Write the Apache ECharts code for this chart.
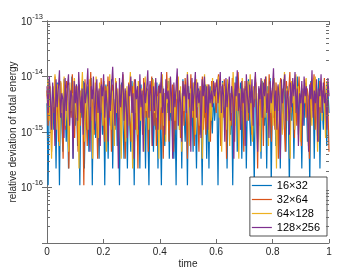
<!DOCTYPE html>
<html><head><meta charset="utf-8">
<script src="https://cdn.jsdelivr.net/npm/echarts@6/dist/echarts.min.js"></script>
<style>html,body{margin:0;padding:0;background:#fff}#c{width:363px;height:273px}</style>
</head><body><div id="c"></div>
<script>
const seriesNames = ['16×32', '32×64', '64×128', '128×256'];
const seriesColors = ['#0072BD', '#D95319', '#EDB120', '#7E2F8E'];
const xTickLabels = ['0', '0.2', '0.4', '0.6', '0.8', '1'];
const yDecades = [1e-17, 1e-16, 1e-15, 1e-14, 1e-13];
const yTickExponents = ['', '-16', '-15', '-14', '-13'];

const err16 = [3.3e-15,1.1e-16,5.6e-15,2.2e-15,8.9e-16,6.7e-15,1.1e-15,4.4e-15,2.2e-16,7.8e-15,3.3e-15,1.1e-16,5.6e-15,1.6e-15,4.4e-16,8.9e-15,2.8e-15,6.7e-16,3.9e-15,2.2e-16,6.1e-15,2.2e-15,1.0e-14,3.3e-16,4.4e-15,1.3e-15,7.2e-15,5.6e-16,2.8e-15,1.1e-16,5.0e-15,1.8e-15,8.3e-15,2.2e-16,3.3e-15,1.1e-15,6.7e-15,4.4e-16,2.4e-15,9.4e-15,1.1e-16,4.4e-15,1.6e-15,7.8e-16,5.6e-15,2.2e-15,3.3e-16,6.7e-15,3.3e-15,8.9e-16,4.9e-15,1.1e-16,7.2e-15,2.8e-15,3.3e-16,5.6e-15,1.3e-15,8.9e-15,2.2e-16,3.9e-15,1.1e-15,6.1e-15,5.6e-16,2.2e-15,1.1e-16,4.4e-15,7.8e-15,1.8e-15,3.3e-16,5.0e-15,2.8e-15,2.2e-16,6.7e-15,1.6e-15,4.4e-16,8.3e-15,3.3e-15,1.1e-16,5.6e-15,2.2e-15,6.7e-16,4.4e-15,2.2e-16,7.2e-15,2.4e-15,8.9e-16,3.9e-15,2.2e-16,6.1e-15,1.3e-15,1.1e-16,5.0e-15,2.8e-15,9.4e-15,4.4e-16,3.3e-15,1.1e-15,7.8e-15,2.2e-16,4.4e-15,1.8e-15,1.1e-16,6.7e-15,3.3e-15,5.6e-16,5.6e-15,2.2e-15,8.3e-15,3.3e-16,3.9e-15,1.6e-15,6.1e-15,3.3e-16,2.8e-15,1.1e-16,7.2e-15,4.4e-15,1.1e-15,5.0e-15,2.2e-16,8.9e-15,2.4e-15,6.7e-16,4.4e-15,1.1e-16,6.7e-15,3.3e-15,1.3e-15,5.6e-15,4.4e-16,7.8e-15,2.2e-15,2.2e-16,3.9e-15,6.1e-15,8.9e-16,2.8e-15,1.1e-16,5.0e-15,1.8e-15,7.2e-15,3.3e-16,4.4e-15,2.2e-16,6.7e-15,2.2e-15,9.4e-16,5.6e-15,1.6e-15,3.3e-15,
4.4e-15,1.1e-16,6.7e-15,2.8e-15,5.6e-16,8.3e-15,3.3e-15,1.3e-15,5.6e-15,2.2e-16,7.2e-15,3.9e-15,8.9e-16,4.4e-15,1.1e-16,6.1e-15,2.4e-15,1.0e-14,4.4e-16,5.0e-15,1.8e-15,7.8e-15,3.3e-16,3.3e-15,1.1e-15,6.7e-15,2.2e-16,4.4e-15,8.9e-15,1.6e-15,5.6e-16,5.6e-15,2.8e-15,1.1e-16,7.2e-15,3.9e-15,6.7e-16,6.1e-15,2.2e-15,3.3e-16,8.3e-15,4.4e-15,1.3e-15,5.0e-15,2.2e-16,6.7e-15,3.3e-15,9.4e-15,1.1e-16,4.4e-15,1.8e-15,7.8e-15,5.6e-16,3.3e-15,2.4e-15,6.1e-15,2.2e-16,5.6e-15,1.1e-15,8.9e-15,3.9e-15,4.4e-16,6.7e-15,2.8e-15,1.1e-16,5.0e-15,1.6e-15,7.2e-15,3.3e-16,4.4e-15,2.2e-15,1.0e-14,8.9e-16,5.6e-15,3.3e-15,2.2e-16,6.1e-15,1.3e-15,7.8e-15,4.4e-15,6.7e-16,3.9e-15,1.1e-16,8.3e-15,2.4e-15,5.6e-15,3.3e-16,6.7e-15,1.8e-15,4.4e-15,9.4e-15,2.2e-16,5.0e-15,2.8e-15,1.1e-15,7.2e-15,3.3e-15,5.6e-16,6.1e-15,2.2e-15];
const err32 = [5.6e-15,1.3e-15,8.9e-15,3.3e-15,4.4e-16,6.7e-15,2.2e-15,1.0e-14,1.6e-15,5.0e-15,6.7e-16,3.9e-15,7.8e-15,2.8e-15,3.3e-16,6.1e-15,1.1e-15,8.3e-15,4.4e-15,2.2e-16,5.6e-15,1.8e-15,1.1e-14,3.3e-15,7.8e-16,6.7e-15,2.4e-15,4.4e-16,7.2e-15,1.3e-15,5.0e-15,3.3e-15,1.1e-16,8.9e-15,2.2e-15,5.6e-16,6.1e-15,3.9e-15,1.2e-14,1.6e-15,4.4e-15,8.9e-16,7.8e-15,2.8e-15,3.3e-16,5.6e-15,1.1e-15,9.4e-15,4.4e-15,2.2e-15,6.7e-16,6.7e-15,3.3e-15,1.0e-14,1.8e-15,5.0e-15,4.4e-16,7.2e-15,2.4e-15,1.1e-15,8.3e-15,3.9e-15,5.6e-16,6.1e-15,1.3e-15,4.4e-15,1.1e-14,2.2e-15,3.3e-16,5.6e-15,2.8e-15,7.8e-15,1.6e-15,6.7e-16,6.7e-15,3.3e-15,8.9e-15,1.1e-15,4.4e-15,2.2e-16,7.2e-15,2.2e-15,5.0e-15,8.9e-16,9.4e-15,3.9e-15,1.8e-15,6.1e-15,4.4e-16,5.6e-15,2.4e-15,1.0e-14,3.3e-15,1.3e-15,7.8e-15,5.6e-16,4.4e-15,6.7e-15,2.8e-15,1.1e-15,8.3e-15,3.3e-16,5.0e-15,1.6e-15,1.2e-14,3.9e-15,6.7e-16,6.1e-15,2.2e-15,7.2e-15,4.4e-16,4.4e-15,1.1e-15,8.9e-15,3.3e-15,5.6e-15,7.8e-16,2.4e-15,6.7e-15,1.3e-15,9.4e-15,4.4e-15,3.3e-16,5.0e-15,2.8e-15,1.1e-14,1.8e-15,6.1e-15,5.6e-16,3.9e-15,7.8e-15,2.2e-15,4.4e-16,6.7e-15,3.3e-15,1.0e-14,1.1e-15,5.6e-15,8.9e-16,4.4e-15,7.2e-15,2.2e-15,6.7e-16,8.3e-15,3.3e-15,5.0e-15,
7.8e-15,2.2e-15,5.6e-15,1.1e-14,3.3e-15,5.6e-16,6.7e-15,1.8e-15,8.9e-15,4.4e-15,3.3e-16,7.2e-15,2.8e-15,5.0e-15,1.3e-15,9.4e-15,3.9e-15,6.7e-16,6.1e-15,2.4e-15,1.2e-14,4.4e-15,1.1e-15,5.6e-15,3.3e-15,4.4e-16,8.3e-15,2.2e-15,6.7e-15,1.6e-15,7.8e-15,3.3e-15,8.9e-16,5.0e-15,2.8e-15,1.0e-14,4.4e-15,2.2e-16,6.1e-15,1.3e-15,7.2e-15,3.9e-15,5.6e-16,8.9e-15,2.4e-15,5.6e-15,1.8e-15,1.1e-14,3.3e-15,6.7e-16,6.7e-15,4.4e-15,1.1e-15,7.8e-15,2.2e-15,3.3e-16,5.0e-15,9.4e-15,2.8e-15,6.1e-15,1.6e-15,4.4e-16,8.3e-15,3.3e-15,5.6e-15,1.2e-14,2.2e-15,7.2e-15,3.9e-15,7.8e-16,6.7e-15,1.3e-15,4.4e-15,1.0e-14,2.4e-15,5.6e-16,5.6e-15,3.3e-15,8.9e-15,1.8e-15,6.1e-15,4.4e-15,3.3e-16,7.8e-15,2.8e-15,5.0e-15,1.1e-14,1.1e-15,6.7e-15,3.9e-15,6.7e-16,8.3e-15,2.2e-15,5.6e-15,4.4e-15,9.4e-15,1.6e-15,7.2e-15,3.3e-15,4.4e-16];
const err64 = [4.4e-15,8.9e-15,1.6e-15,6.7e-15,3.3e-16,5.6e-15,2.8e-15,1.1e-14,1.1e-15,7.2e-15,3.9e-15,5.6e-16,8.3e-15,2.2e-15,4.4e-15,1.0e-14,1.3e-15,6.1e-15,3.3e-15,4.4e-16,7.8e-15,2.4e-15,5.0e-15,8.9e-16,9.4e-15,3.3e-15,1.8e-15,6.7e-15,2.2e-16,5.6e-15,4.4e-15,1.2e-14,2.2e-15,6.7e-16,7.2e-15,3.9e-15,1.1e-15,8.9e-15,2.8e-15,5.6e-15,3.3e-16,6.1e-15,1.6e-15,1.0e-14,4.4e-15,7.8e-16,7.8e-15,2.2e-15,5.0e-15,1.3e-15,8.3e-15,3.3e-15,4.4e-16,6.7e-15,2.4e-15,1.1e-14,1.1e-15,5.6e-15,3.9e-15,5.6e-16,9.4e-15,2.2e-15,6.1e-15,1.8e-15,7.2e-15,3.3e-16,4.4e-15,8.9e-15,2.8e-15,6.7e-16,6.7e-15,1.3e-15,5.0e-15,1.2e-14,3.3e-15,2.2e-16,7.8e-15,2.2e-15,5.6e-15,8.9e-16,8.3e-15,4.4e-15,1.6e-15,6.1e-15,3.9e-15,4.4e-16,1.0e-14,2.4e-15,5.6e-15,1.1e-15,7.2e-15,3.3e-15,5.6e-16,8.9e-15,2.2e-15,6.7e-15,1.8e-15,4.4e-15,3.3e-16,7.8e-15,2.8e-15,1.1e-14,1.3e-15,5.0e-15,6.7e-16,6.1e-15,3.3e-15,9.4e-15,2.2e-15,4.4e-15,7.8e-16,7.2e-15,1.6e-15,5.6e-15,3.9e-15,1.0e-14,1.1e-15,6.7e-15,4.4e-16,8.3e-15,2.4e-15,5.0e-15,3.3e-15,1.2e-14,2.2e-15,5.6e-16,6.1e-15,1.8e-15,7.8e-15,4.4e-15,8.9e-16,8.9e-15,2.8e-15,5.6e-15,1.3e-15,6.7e-15,3.3e-16,4.4e-15,1.1e-14,2.2e-15,7.2e-15,3.9e-15,6.7e-16,5.6e-15,1.6e-15,9.4e-15,3.3e-15,5.0e-15,
6.1e-15,3.3e-15,1.0e-14,1.8e-15,5.6e-15,4.4e-16,7.8e-15,2.8e-15,6.7e-15,1.1e-15,8.9e-15,3.9e-15,5.6e-16,5.0e-15,2.2e-15,1.2e-14,4.4e-15,1.3e-15,7.2e-15,3.3e-15,3.3e-16,6.1e-15,2.4e-15,9.4e-15,4.4e-15,7.8e-16,5.6e-15,1.6e-15,8.3e-15,3.3e-15,1.1e-14,2.2e-15,6.7e-16,6.7e-15,3.9e-15,7.8e-15,1.1e-15,5.0e-15,2.8e-15,4.4e-16,8.9e-15,4.4e-15,6.1e-15,1.8e-15,1.0e-14,3.3e-15,5.6e-16,7.2e-15,2.2e-15,5.6e-15,1.3e-15,9.4e-15,4.4e-15,2.2e-16,6.7e-15,2.4e-15,7.8e-15,3.9e-15,8.9e-16,5.0e-15,1.2e-14,2.8e-15,6.1e-15,1.6e-15,4.4e-15,3.3e-16,8.3e-15,3.3e-15,5.6e-15,1.1e-15,1.1e-14,2.2e-15,6.7e-15,4.4e-15,6.7e-16,7.2e-15,1.8e-15,5.0e-15,3.3e-15,9.4e-15,2.4e-15,5.6e-16,6.1e-15,4.4e-15,1.3e-15,8.9e-15,3.9e-15,1.0e-14,2.2e-15,4.4e-16,5.6e-15,2.8e-15,7.8e-15,1.6e-15,6.7e-15,3.3e-15,7.8e-16,8.3e-15,4.4e-15,5.0e-15];
const err128 = [6.7e-15,2.2e-15,1.0e-14,4.4e-15,1.1e-15,7.8e-15,3.3e-15,5.6e-16,8.9e-15,2.8e-15,6.1e-15,1.3e-14,1.8e-15,5.0e-15,3.9e-15,7.8e-16,9.4e-15,2.4e-15,6.7e-15,1.1e-14,1.3e-15,5.6e-15,4.4e-15,3.3e-16,8.3e-15,3.3e-15,7.2e-15,1.6e-15,1.2e-14,4.4e-15,2.2e-15,6.1e-15,8.9e-16,7.8e-15,3.3e-15,5.6e-15,1.4e-14,2.8e-15,4.4e-16,6.7e-15,3.9e-15,1.0e-14,1.1e-15,5.0e-15,8.9e-15,2.2e-15,6.1e-15,5.6e-16,7.2e-15,4.4e-15,1.1e-14,1.8e-15,5.6e-15,3.3e-15,6.7e-16,8.3e-15,2.4e-15,6.7e-15,1.5e-14,3.9e-15,1.3e-15,7.8e-15,4.4e-15,2.2e-16,9.4e-15,2.8e-15,5.6e-15,1.2e-14,1.6e-15,6.1e-15,3.3e-15,7.8e-16,7.2e-15,4.4e-15,1.0e-14,2.2e-15,5.0e-15,3.3e-16,8.9e-15,3.9e-15,6.7e-15,1.1e-15,1.1e-14,2.8e-15,5.6e-15,4.4e-16,7.8e-15,3.3e-15,6.1e-15,1.3e-14,1.8e-15,8.3e-15,4.4e-15,5.6e-16,6.7e-15,2.4e-15,9.4e-15,3.3e-15,1.1e-15,7.2e-15,5.0e-15,1.2e-14,2.2e-15,6.1e-15,8.9e-16,8.9e-15,3.9e-15,5.6e-15,1.6e-15,1.0e-14,4.4e-15,3.3e-16,7.8e-15,2.8e-15,6.7e-15,1.4e-14,1.3e-15,5.6e-15,3.3e-15,6.7e-16,8.3e-15,4.4e-15,7.2e-15,2.2e-15,1.1e-14,3.9e-15,5.0e-15,4.4e-16,9.4e-15,2.4e-15,6.1e-15,1.2e-14,1.8e-15,7.8e-15,3.3e-15,5.6e-15,7.8e-16,8.9e-15,4.4e-15,1.0e-14,2.2e-15,6.7e-15,1.1e-15,7.2e-15,3.3e-15,5.6e-15,2.8e-15,8.3e-15,4.4e-15,6.1e-15,
8.9e-15,3.3e-15,6.1e-15,1.2e-14,2.2e-15,7.2e-15,4.4e-15,6.7e-16,9.4e-15,2.8e-15,5.6e-15,1.0e-14,1.6e-15,6.7e-15,3.9e-15,3.3e-16,7.8e-15,4.4e-15,1.3e-14,2.4e-15,5.0e-15,1.1e-15,8.3e-15,3.3e-15,6.1e-15,5.6e-16,1.1e-14,4.4e-15,2.2e-15,7.2e-15,3.3e-15,8.9e-15,1.3e-15,5.6e-15,1.2e-14,2.8e-15,4.4e-16,6.7e-15,3.9e-15,9.4e-15,1.8e-15,7.8e-15,4.4e-15,1.0e-14,2.2e-15,5.0e-15,7.8e-16,8.3e-15,3.3e-15,6.1e-15,1.4e-14,2.4e-15,5.6e-15,1.1e-15,7.2e-15,4.4e-15,3.3e-16,8.9e-15,3.3e-15,6.7e-15,1.1e-14,1.6e-15,5.6e-15,3.9e-15,8.9e-16,7.8e-15,2.8e-15,9.4e-15,4.4e-15,1.2e-14,2.2e-15,6.1e-15,5.6e-16,5.0e-15,3.3e-15,8.3e-15,1.3e-15,1.0e-14,4.4e-15,6.7e-15,2.4e-15,4.4e-16,7.2e-15,3.9e-15,1.3e-14,1.8e-15,5.6e-15,3.3e-15,8.9e-15,6.7e-16,6.1e-15,4.4e-15,1.1e-14,2.2e-15,7.8e-15,3.3e-15,5.0e-15,1.1e-15,9.4e-15,4.4e-15];

const allSeries = [err16, err32, err64, err128];
const FONT = "'Liberation Sans', Arial, Helvetica, sans-serif";
const AX = '#6e6e6e';
const TXT = '#262626';

// minor tick positions for the log axis (2..9 x 10^n)
const minorVals = [];
for (let e = -17; e <= -14; e++) for (let m = 2; m <= 9; m++) minorVals.push([0, m * Math.pow(10, e)]);

const chart = echarts.init(document.getElementById('c'), null, {renderer: 'canvas'});
const yAxisBase = {
  type: 'log', logBase: 10, min: yDecades[0], max: yDecades[yDecades.length - 1],
  splitLine: {show: false},
  axisLine: {show: true, lineStyle: {color: AX, width: 1}},
  axisTick: {show: true, inside: true, length: 5, lineStyle: {color: AX}},
  axisLabel: {show: false},
  minorTick: {show: false}
};
chart.setOption({
  animation: false,
  backgroundColor: '#fff',
  grid: {left: 47, right: 34, top: 21, bottom: 30, containLabel: false, outerBoundsMode: 'none'},
  legend: {
    data: seriesNames, orient: 'vertical', right: 36, top: 177,
    icon: 'rect', itemWidth: 20, itemHeight: 1.2, itemGap: 3,
    backgroundColor: '#fff', borderColor: TXT, borderWidth: 0.8, borderRadius: 0,
    padding: [3, 7, 3, 2],
    textStyle: {fontSize: 11, fontFamily: FONT, color: '#000'}
  },
  xAxis: [{
    type: 'value', min: 0, max: 1, interval: 0.2, position: 'bottom',
    name: 'time', nameLocation: 'middle', nameGap: 16, nameMoveOverlap: false,
    nameTextStyle: {fontSize: 10, fontFamily: FONT, color: TXT},
    splitLine: {show: false},
    axisLine: {show: true, onZero: false, lineStyle: {color: AX, width: 1}},
    axisTick: {show: true, inside: true, length: 4, lineStyle: {color: AX}},
    axisLabel: {fontSize: 10, fontFamily: FONT, color: TXT, margin: 4, hideOverlap: false,
      formatter: (v) => xTickLabels[Math.round(v * 5)]}
  }, {
    type: 'value', min: 0, max: 1, interval: 0.2, position: 'top',
    splitLine: {show: false},
    axisLine: {show: true, onZero: false, lineStyle: {color: AX, width: 1}},
    axisTick: {show: true, inside: true, length: 4, lineStyle: {color: AX}},
    axisLabel: {show: false}
  }],
  yAxis: [Object.assign({}, yAxisBase, {
    position: 'left',
    name: 'relative deviation of total energy', nameLocation: 'middle', nameGap: 29,
    nameMoveOverlap: false,
    nameTextStyle: {fontSize: 10, fontFamily: FONT, color: TXT}
  }), Object.assign({}, yAxisBase, {position: 'right'})],
  series: allSeries.map((arr, k) => ({
    name: seriesNames[k], type: 'line', xAxisIndex: 0, yAxisIndex: 0,
    showSymbol: false, symbol: 'none', color: seriesColors[k],
    lineStyle: {width: 1.2, color: seriesColors[k]},
    data: arr.map((v, i) => [i / (arr.length - 1), v]),
    z: 2 + k
  })).concat([{
    type: 'custom', xAxisIndex: 0, yAxisIndex: 0, silent: true, z: 10,
    data: minorVals,
    renderItem: (params, api) => {
      const v = api.value(1);
      const pL = api.coord([0, v]);
      const pR = api.coord([1, v]);
      const y = Math.round(pL[1]) + 0.5;
      return {type: 'group', children: [
        {type: 'line', shape: {x1: pL[0], y1: y, x2: pL[0] + 3, y2: y}, style: {stroke: AX, lineWidth: 1}},
        {type: 'line', shape: {x1: pR[0], y1: y, x2: pR[0] - 3, y2: y}, style: {stroke: AX, lineWidth: 1}}
      ]};
    }
  }, {
    // y tick labels 10^n drawn at the axis' own tick positions
    type: 'custom', xAxisIndex: 0, yAxisIndex: 0, silent: true, z: 10, clip: false,
    data: yDecades.map((v, i) => [0, v, i]),
    renderItem: (params, api) => {
      const v = api.value(1);
      const exp = yTickExponents[api.value(2)];
      if (!exp) return null;
      const p = api.coord([0, v]);
      return {type: 'group', children: [
        {type: 'text', style: {x: p[0] - 4, y: p[1] - 0.5, text: exp, align: 'right', verticalAlign: 'bottom',
          font: '7.5px ' + FONT, fill: TXT}},
        {type: 'text', style: {x: p[0] - 15, y: p[1] + 1, text: '10', align: 'right', verticalAlign: 'middle',
          font: '10px ' + FONT, fill: TXT}}
      ]};
    }
  }])
});
</script>
</body></html>
